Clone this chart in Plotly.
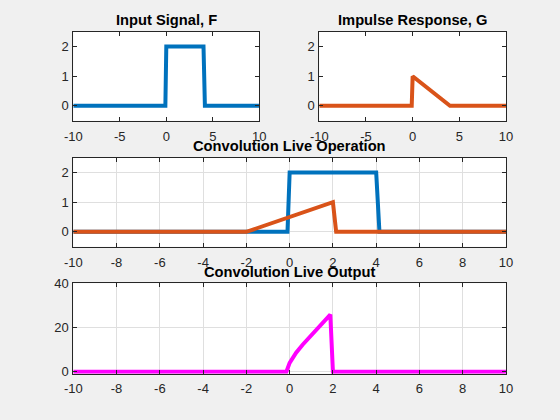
import plotly.graph_objects as go

# ---- data ----
t_f = [-10, -0.1, 0, 4, 4.15, 10]
f_vals = [0, 0, 2, 2, 0, 0]

t_g = [-10, -0.1, 0, 4, 10]
g_vals = [0, 0, 1, 0, 0]

t_gflip = [-10, -2, 2, 2.15, 10]
gflip_vals = [0, 0, 1, 0, 0]

t_out = [-10, -0.15, 0, 0.1, 0.3, 0.6, 1.0, 1.4, 1.7, 1.88, 2.0, 10]
out_vals = [0, 0, 4, 5.8, 8.6, 12.2, 16.3, 20.4, 23.5, 25.8, 0, 0]

titles = ["Input Signal, F", "Impulse Response, G",
          "Convolution Live Operation", "Convolution Live Output"]
ticks_small = [-10, -5, 0, 5, 10]
ticks_wide = [-10, -8, -6, -4, -2, 0, 2, 4, 6, 8, 10]
ticks_y = [0, 1, 2]
ticks_y_out = [0, 20, 40]

BLUE = "#0072BD"
ORANGE = "#D95319"
MAGENTA = "#FF00FF"
W, H = 560, 420


def px_x(p):
    return p / W


def px_y(p):
    return 1 - p / H


fig = go.Figure()
lw = 4
fig.add_trace(go.Scatter(x=t_f, y=f_vals, mode="lines", line=dict(color=BLUE, width=lw),
                         xaxis="x", yaxis="y", showlegend=False))
fig.add_trace(go.Scatter(x=t_g, y=g_vals, mode="lines", line=dict(color=ORANGE, width=lw),
                         xaxis="x2", yaxis="y2", showlegend=False))
fig.add_trace(go.Scatter(x=t_f, y=f_vals, mode="lines", line=dict(color=BLUE, width=lw),
                         xaxis="x3", yaxis="y3", showlegend=False))
fig.add_trace(go.Scatter(x=t_gflip, y=gflip_vals, mode="lines", line=dict(color=ORANGE, width=lw),
                         xaxis="x3", yaxis="y3", showlegend=False))
fig.add_trace(go.Scatter(x=t_out, y=out_vals, mode="lines", line=dict(color=MAGENTA, width=lw),
                         xaxis="x4", yaxis="y4", showlegend=False))

axcol = "#262626"
gridcol = "#dfdfdf"
tickfont = dict(family="Liberation Sans, Arial", size=13, color=axcol)

common = dict(showline=True, linecolor=axcol, linewidth=1, mirror="ticks",
              ticks="inside", ticklen=4, tickcolor=axcol, tickwidth=1,
              zeroline=False, tickfont=tickfont, fixedrange=True, automargin=False)

boxes = {
    1: (73.3, 259.3, 31.7, 120.7),
    2: (319.3, 506.0, 31.7, 120.7),
    3: (73.3, 506.0, 157.7, 246.7),
    4: (73.3, 506.0, 283.3, 373.7),
}

layout = dict(width=W, height=H, margin=dict(l=0, r=0, t=0, b=0, autoexpand=False),
              paper_bgcolor="#f0f0f0", plot_bgcolor="white", showlegend=False)

for i, (x0, x1, y0, y1) in boxes.items():
    sfx = "" if i == 1 else str(i)
    xt = ticks_small if i in (1, 2) else ticks_wide
    grid = i in (3, 4)
    layout["xaxis" + sfx] = dict(common, domain=[px_x(x0), px_x(x1)], range=[-10, 10],
                                 tickvals=xt, ticktext=[str(v) for v in xt],
                                 anchor="y" + sfx, showgrid=grid, gridcolor=gridcol,
                                 ticklabelstandoff=4 if i != 4 else 3)
    if i == 4:
        yr = [-0.9, 40]
        yt = ticks_y_out
    else:
        yr = [-0.5, 2.5]
        yt = ticks_y
    layout["yaxis" + sfx] = dict(common, domain=[px_y(y1), px_y(y0)], range=yr,
                                 tickvals=yt, ticktext=[str(v) for v in yt],
                                 anchor="x" + sfx, showgrid=grid, gridcolor=gridcol,
                                 ticklabelstandoff=1)

annotations = []
title_centers = {1: 19.8, 2: 19.8, 3: 145.5, 4: 271.5}
for i, txt in enumerate(titles, start=1):
    x0, x1, y0, y1 = boxes[i]
    annotations.append(dict(text="<b>%s</b>" % txt, x=px_x((x0 + x1) / 2), y=px_y(title_centers[i]),
                            xref="paper", yref="paper", xanchor="center", yanchor="middle",
                            showarrow=False, font=dict(family="Liberation Sans, Arial", size=14.7,
                                                       color="black")))
layout["annotations"] = annotations

fig.update_layout(**layout)
fig.write_html("out.html")
